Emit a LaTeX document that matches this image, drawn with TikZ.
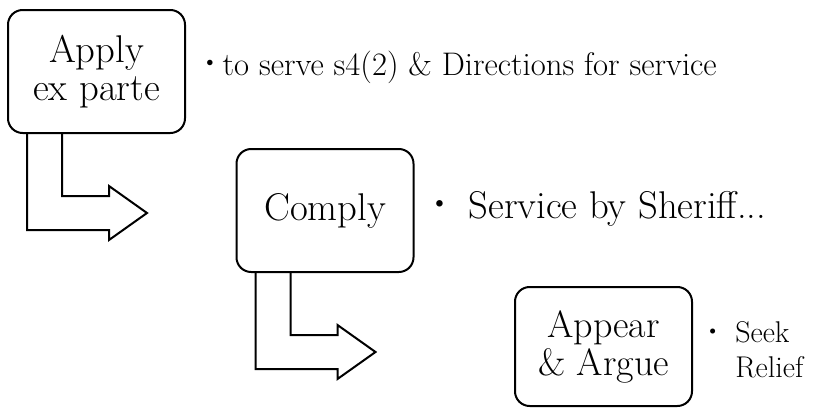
\documentclass[tikz,border=0pt]{standalone}
\usepackage{graphicx}
\usetikzlibrary{calc}

\newcommand{\itemdot}[1]{\raisebox{0.16em}{\scalebox{0.75}{\textbullet}}\hspace{#1}}
\newcommand{\bentarrow}[1]{%
  \draw[bent] ([xshift=15pt]#1.south west) -- ++(0,96) -- ++(82,0) -- ++(0,10)
    -- ++(38,-27) -- ++(-38,-27) -- ++(0,10) -- ++(-47,0) -- ++(0,-62);}

\begin{document}
\begin{tikzpicture}[x=0.75pt,y=-0.75pt,
  stage/.style={draw,line width=1.5pt,rounded corners=11pt,
    minimum width=132.75pt,minimum height=92.25pt,align=center,inner sep=0pt,
    font=\fontsize{29}{28.5}\selectfont},
  note/.style={anchor=base west,inner sep=0pt,font=\fontsize{22.5}{26.25}\selectfont},
  bent/.style={line width=1.5pt}]
	\useasboundingbox (0,0) rectangle (815,408);
	\node[stage] (apply) at (96.5,71.5) {Apply\\ex parte};
	\node[stage] (comply) at (325,210.5) {Comply};
	\node[stage,minimum height=89.25pt,font=\fontsize{28.5}{28.5}\selectfont] (argue) at (603.5,346.5) {Appear\\\& Argue};
	\node[note,font=\fontsize{24.5}{28}\selectfont] (serve) at (200.9,75) {\itemdot{2.9pt}to serve s4(2) \& Directions for service};
	\node[note,font=\fontsize{29}{32}\selectfont] (sheriff) at (428.75,218) {\itemdot{14pt}Service by Sheriff...};
	\node[note] (relief) at (704.4,342) {\itemdot{10.8pt}\begin{tabular}[t]{@{}l@{}}Seek\\Relief\end{tabular}};
	\bentarrow{apply}
	\bentarrow{comply}
\end{tikzpicture}
\end{document}
